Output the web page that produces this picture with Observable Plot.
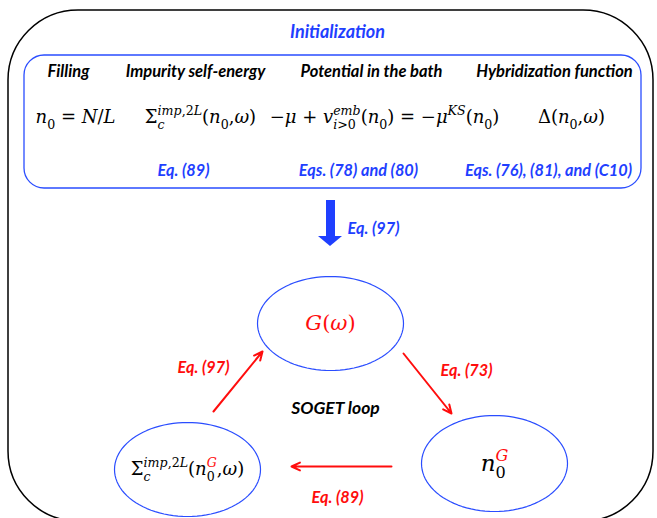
<!DOCTYPE html>
<html><head><meta charset="utf-8">
<script src="https://cdn.jsdelivr.net/npm/d3@7"></script>
<script src="https://cdn.jsdelivr.net/npm/@observablehq/plot@0.6"></script>
<style>body{margin:0;background:#fff} svg text{white-space:pre}</style>
</head><body><div id="chart"></div>
<script>
// ---------- data ----------
const title = ["Initialization"];
const titleX = [337], titleY = [32];

const headers = ["Filling", "Impurity self-energy", "Potential in the bath", "Hybridization function"];
const headerX = [68, 195, 371, 554];
const headerY = 71;

const formulas = ["n_{0} = N/L", "Σ_{c}^{imp,2L}(n_{0},ω)", "−μ + v_{i>0}^{emb}(n_{0}) = −μ^{KS}(n_{0})", "Δ(n_{0},ω)"];
const formulaX = [75, 200, 384, 571];
const formulaY = 117;

const initEqs = ["Eq. (89)", "Eqs. (78) and (80)", "Eqs. (76), (81), and (C10)"];
const initEqX = [183, 358, 548];
const initEqY = 170;

const frameNames = ["outer", "init"];
const frameX1 = [8, 24], frameX2 = [653, 641], frameY1 = [10, 55], frameY2 = [521, 188];

// thick initialization arrow
const mainArrowX = 330, mainArrowTop = 200, mainArrowNeck = 236, mainArrowTip = 246;
const mainHeadX = [318, 330, 342];
const mainEq = ["Eq. (97)"], mainEqX = [373], mainEqY = [228];

// loop nodes
const nodeLabels = ["G(ω)", "n_{0}^{!{G}}", "Σ_{c}^{imp,2L}(n_{0}^{!{G}},ω)"];
const nodeX = [330, 494, 187];
const nodeY = [323, 463, 469];
const nodeRX = [73, 73, 73];
const nodeRY = [47, 48, 47];
const nodeSize = [21, 23, 18];
const nodeRed = [true, false, false];

// loop arrows
const loopX1 = [213, 403, 391], loopY1 = [411, 353, 466];
const loopX2 = [262, 451, 291], loopY2 = [351, 413, 466];
const loopEqs = ["Eq. (97)", "Eq. (73)", "Eq. (89)"];
const loopEqX = [203, 466, 337], loopEqY = [367, 370, 497];
const loopTitle = ["SOGET loop"], loopTitleX = [335], loopTitleY = [408];

// ---------- derived tables ----------
const BLUE = "#1f3fff", RED = "#ff0d0d", EBLUE = "#2a4dff";
const headerData = headers.map((t, i) => ({t, x: headerX[i], y: headerY}));
const formulaData = formulas.map((t, i) => ({t, x: formulaX[i], y: formulaY}));
const initEqData = initEqs.map((t, i) => ({t, x: initEqX[i], y: initEqY}));
const frames = frameNames.map((n, i) => ({n, x1: frameX1[i], x2: frameX2[i], y1: frameY1[i], y2: frameY2[i]}));
const nodes = nodeLabels.map((t, i) => ({t, x: nodeX[i], y: nodeY[i], rx: nodeRX[i], ry: nodeRY[i], size: nodeSize[i], red: nodeRed[i]}));
const ellipsePts = nodes.flatMap((n, i) => d3.range(0, 96).map(k => {
  const a = (k / 96) * 2 * Math.PI;
  return {id: i, x: n.x + n.rx * Math.cos(a), y: n.y + n.ry * Math.sin(a)};
}));
const loopArrows = loopX1.map((x, i) => ({x1: x, y1: loopY1[i], x2: loopX2[i], y2: loopY2[i]}));
const loopEqData = loopEqs.map((t, i) => ({t, x: loopEqX[i], y: loopEqY[i]}));
const headPts = mainHeadX.map((x, i) => ({x, y1: mainArrowNeck, y2: i === 1 ? mainArrowTip : mainArrowNeck}));

const W = 657, H = 518;
const calibri = "Lato, 'Open Sans', sans-serif";
const cambria = "'DejaVu Serif', 'Liberation Serif', serif";

const plot = Plot.plot({
  width: W, height: H, margin: 0,
  x: {domain: [0, W], range: [0, W], axis: null},
  y: {domain: [0, H], range: [0, H], axis: null},
  style: {background: "white", overflow: "hidden"},
  marks: [
    Plot.rect(frames.slice(0, 1), {x1: "x1", x2: "x2", y1: "y1", y2: "y2", rx: 70, fill: "none", stroke: "black", strokeWidth: 1.5}),
    Plot.rect(frames.slice(1), {x1: "x1", x2: "x2", y1: "y1", y2: "y2", rx: 20, fill: "none", stroke: EBLUE, strokeWidth: 1.3}),
    Plot.text(title, {x: titleX, y: titleY, text: d => d, fill: BLUE, fontFamily: calibri, fontWeight: "bold", fontStyle: "italic", fontSize: 18}),
    Plot.text(headerData, {x: "x", y: "y", text: "t", fill: "black", fontFamily: calibri, fontWeight: "bold", fontStyle: "italic", fontSize: 16.5}),
    Plot.text(formulaData, {x: "x", y: "y", text: "t", fill: "black", fontFamily: cambria, fontSize: 18}),
    Plot.text(initEqData, {x: "x", y: "y", text: "t", fill: BLUE, fontFamily: calibri, fontWeight: "bold", fontStyle: "italic", fontSize: 16.3}),
    // thick blue arrow
    Plot.ruleX([mainArrowX], {y1: mainArrowTop, y2: mainArrowNeck + 1, stroke: BLUE, strokeWidth: 9}),
    Plot.areaY(headPts, {x: "x", y1: "y1", y2: "y2", fill: BLUE}),
    Plot.text(mainEq, {x: mainEqX, y: mainEqY, text: d => d, fill: BLUE, fontFamily: calibri, fontWeight: "bold", fontStyle: "italic", fontSize: 16.3}),
    // ellipses
    Plot.line(ellipsePts, {x: "x", y: "y", z: "id", curve: "linear-closed", stroke: EBLUE, strokeWidth: 1.2}),
    Plot.text(nodes, {x: "x", y: "y", text: "t", fontSize: "size", fill: d => d.red ? RED : "black", fontFamily: cambria}),
    // loop arrows
    Plot.arrow(loopArrows, {x1: "x1", y1: "y1", x2: "x2", y2: "y2", stroke: RED, strokeWidth: 2, headLength: 7, headAngle: 50}),
    Plot.text(loopEqData, {x: "x", y: "y", text: "t", fill: RED, fontFamily: calibri, fontWeight: "bold", fontStyle: "italic", fontSize: 16.3}),
    Plot.text(loopTitle, {x: loopTitleX, y: loopTitleY, text: d => d, fill: "black", fontFamily: calibri, fontWeight: "bold", fontStyle: "italic", fontSize: 17.5})
  ]
});
document.getElementById("chart").appendChild(plot);

// ---------- math markup to tspans ----------
function parseMath(s) {
  const segs = []; let i = 0;
  function read(level, red) {
    let buf = "";
    const flush = () => { if (buf) { segs.push({t: buf, level, red}); buf = ""; } };
    while (i < s.length) {
      const c = s[i];
      if (c === "}") { flush(); i++; return; }
      if ((c === "_" || c === "^" || c === "!") && s[i + 1] === "{") {
        flush(); i += 2;
        const lv = c === "_" ? "sub" : c === "^" ? "sup" : level;
        read(lv, red || c === "!");
        continue;
      }
      buf += c; i++;
    }
    flush();
  }
  read("base", false);
  return segs;
}
function splitItalic(t) {
  const out = []; let cur = null;
  for (const ch of t) {
    const it = ch === " " ? (cur ? cur.italic : false) : /[A-Za-z\u03b1-\u03c9]/.test(ch);
    if (cur && cur.italic === it) cur.t += ch; else { cur = {t: ch, italic: it}; out.push(cur); }
  }
  return out;
}
const NS = "http://www.w3.org/2000/svg";
plot.querySelectorAll("text").forEach(el => {
  const s = el.textContent;
  if (!/[_^!]\{/.test(s) && !/[Σμω]/.test(s)) return;
  const segs = parseMath(s);
  const fs = parseFloat(getComputedStyle(el).fontSize);
  el.textContent = "";
  let cur = 0, runLevel = "base", runW = 0, lastSubW = 0, stacked = false, stackSubW = 0;
  for (const seg of segs) {
    let dx = 0;
    if (seg.level !== runLevel) {
      if (runLevel === "sub") lastSubW = runW;
      if (runLevel === "sup" && stacked) { if (stackSubW > runW) dx += stackSubW - runW; stacked = false; }
      if (seg.level === "sup" && runLevel === "sub") { dx -= lastSubW; stacked = true; stackSubW = lastSubW; }
      runLevel = seg.level; runW = 0;
    }
    for (const piece of splitItalic(seg.t)) {
      const ts = document.createElementNS(NS, "tspan");
      const size = seg.level === "base" ? fs : fs * 0.7;
      const target = seg.level === "sub" ? fs * 0.3 : seg.level === "sup" ? -fs * 0.45 : 0;
      ts.setAttribute("font-size", size);
      if (target !== cur) { ts.setAttribute("dy", target - cur); cur = target; }
      if (dx) { ts.setAttribute("dx", dx); dx = 0; }
      ts.setAttribute("font-style", piece.italic ? "italic" : "normal");
      if (seg.red) ts.setAttribute("fill", RED);
      ts.textContent = piece.t;
      el.appendChild(ts);
      runW += ts.getComputedTextLength();
    }
  }
});
</script></body></html>
